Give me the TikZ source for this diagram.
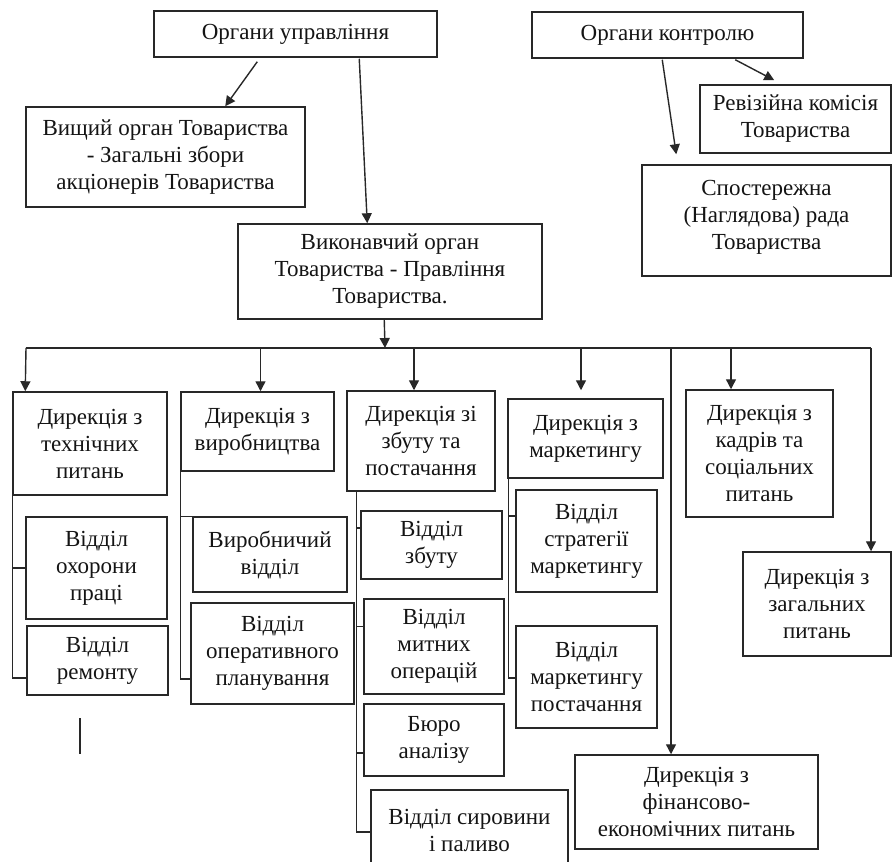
\documentclass[tikz,border=0pt]{standalone}
\usepackage{fontspec}
\setmainfont{Liberation Serif}
\usetikzlibrary{arrows.meta,calc}
\definecolor{ln}{RGB}{40,40,40}
\definecolor{tx}{RGB}{20,20,20}
\tikzset{
  box/.style={draw=ln, line width=1.5pt, align=center, inner sep=0pt, text=tx,
    font=\fontsize{23}{27}\selectfont},
  conn/.style={draw=ln, line width=1.4pt},
  arr/.style={conn, -{Triangle[length=10pt,width=10pt]}},
}
\begin{document}
\begin{tikzpicture}[x=1pt,y=-1pt]
\useasboundingbox (0,0) rectangle (893,861);
% top level
\node[box,minimum width=283pt,minimum height=46pt] (mgmt) at (295.5,34) {Органи управління};
\node[box,minimum width=279pt,minimum height=100pt] (vyshchyi) at (165.5,157) {Вищий орган Товариства\\- Загальні збори\\акціонерів Товариства};
\node[box,minimum width=304pt,minimum height=95pt] (vykon) at (390,271.5) {Виконавчий орган\\Товариства - Правління\\Товариства.};
\node[box,minimum width=271pt,minimum height=46pt] (control) at (667.5,35) {Органи контролю};
\node[box,minimum width=191pt,minimum height=68pt] (reviz) at (795.5,119) {Ревізійна комісія\\Товариства};
\node[box,minimum width=249pt,minimum height=111pt,text depth=12pt] (sposter) at (766.5,220.5) {Спостережна\\(Наглядова) рада\\Товариства};
% directorates
\node[box,minimum width=154pt,minimum height=103pt] (d1) at (90,443.5) {Дирекція з\\технічних\\питань};
\node[box,minimum width=153pt,minimum height=79pt] (d2) at (257.5,431.5) {Дирекція з\\виробництва};
\node[box,minimum width=148pt,minimum height=100pt] (d3) at (421,441) {Дирекція зі\\збуту та\\постачання};
\node[box,minimum width=155pt,minimum height=79pt] (d4) at (585.5,438.5) {Дирекція з\\маркетингу};
\node[box,minimum width=147pt,minimum height=127pt] (d5) at (759.5,453.5) {Дирекція з\\кадрів та\\соціальних\\питань};
\node[box,minimum width=148pt,minimum height=104pt] (d6) at (817,604) {Дирекція з\\загальних\\питань};
\node[box,minimum width=243pt,minimum height=94pt] (d7) at (696.5,802) {Дирекція з\\фінансово-\\економічних питань};
% departments
\node[box,minimum width=141pt,minimum height=102pt] (ohorona) at (96.5,568) {Відділ\\охорони\\праці};
\node[box,minimum width=141pt,minimum height=69pt] (remont) at (97.5,660.5) {Відділ\\ремонту};
\node[box,minimum width=154pt,minimum height=75pt] (vyrobn) at (270,554.5) {Виробничий\\відділ};
\node[box,minimum width=163pt,minimum height=101pt] (operat) at (272.5,653.5) {Відділ\\оперативного\\планування};
\node[box,minimum width=141pt,minimum height=68pt] (zbut) at (431.5,545) {Відділ\\збуту};
\node[box,minimum width=140pt,minimum height=95pt] (mytni) at (434,646.5) {Відділ\\митних\\операцій};
\node[box,minimum width=140pt,minimum height=72pt] (buro) at (434,740) {Бюро\\аналізу};
\node[box,minimum width=197pt,minimum height=80pt] (syrovyna) at (469.5,830) {Відділ сировини\\і паливо};
\node[box,minimum width=141pt,minimum height=102pt] (strat) at (586.5,541) {Відділ\\стратегії\\маркетингу};
\node[box,minimum width=141pt,minimum height=102pt] (mpost) at (586.5,677) {Відділ\\маркетингу\\постачання};
% top connectors
\draw[arr] ($(mgmt.south west)+(104,4)$) -- ($(vyshchyi.north west)+(200,0)$);
\draw[arr] ($(mgmt.south west)+(206,1)$) -- ($(vykon.north west)+(130,0)$);
\draw[arr] ($(control.south west)+(131,1)$) -- ($(sposter.north west)+(35,-10)$);
\draw[arr] ($(control.south west)+(204,1)$) -- ($(reviz.north west)+(75,-4)$);
% bus
\coordinate (busL) at (26,348);
\coordinate (busR) at (871,348);
\coordinate (busV) at (385,348);
\draw[arr] ($(vykon.south west)+(147,0)$) -- (busV);
\draw[conn] (busL) -- (busR);
\coordinate (t1) at ($(d1.north west)+(13,0)$);
\coordinate (t2) at ($(d2.north)+(3,0)$);
\coordinate (t3) at ($(d3.north)+(-7,0)$);
\coordinate (t4) at ($(d4.north)+(-4.5,-8)$);
\coordinate (t5) at ($(d5.north)+(-28.5,0)$);
\coordinate (t7) at ($(d7.north)+(-25.5,0)$);
\draw[arr] (busL) -- (t1);
\draw[arr] (t2 |- busL) -- (t2);
\draw[arr] (t3 |- busL) -- (t3);
\draw[arr] (t4 |- busL) -- (t4);
\draw[arr] (t5 |- busL) -- (t5);
\draw[arr] (t7 |- busL) -- (t7);
\draw[arr] (busR) -- (busR |- d6.north);
% department trees
\draw[conn] (d1.south west) |- ($(remont.west)+(0,17.5)$);
\draw[conn] (d1.south west |- ohorona.west) -- (ohorona.west);
\draw[conn] (d2.south west) |- ($(operat.west)+(0,25.5)$);
\draw[conn] (d2.south west |- vyrobn.north west) -- (vyrobn.north west);
\coordinate (s3) at ($(d3.south west)+(10,0)$);
\draw[conn] (s3) |- ($(syrovyna.west)+(0,2)$);
\coordinate (b31) at ($(zbut.west)+(0,-17)$);
\coordinate (b32) at ($(mytni.west)+(0,-20)$);
\coordinate (b33) at ($(buro.west)+(0,13)$);
\draw[conn] (s3 |- b31) -- (b31);
\draw[conn] (s3 |- b32) -- (b32);
\draw[conn] (s3 |- b33) -- (b33);
\coordinate (s4) at ($(d4.south west)+(1,0)$);
\draw[conn] (s4) |- ($(mpost.west)+(0,1)$);
\coordinate (b41) at ($(strat.west)+(0,-25)$);
\draw[conn] (s4 |- b41) -- (b41);
% stray mark
\coordinate (st1) at (80,718);
\coordinate (st2) at (80,754);
\draw[conn] (st1) -- (st2);
\end{tikzpicture}
\end{document}
